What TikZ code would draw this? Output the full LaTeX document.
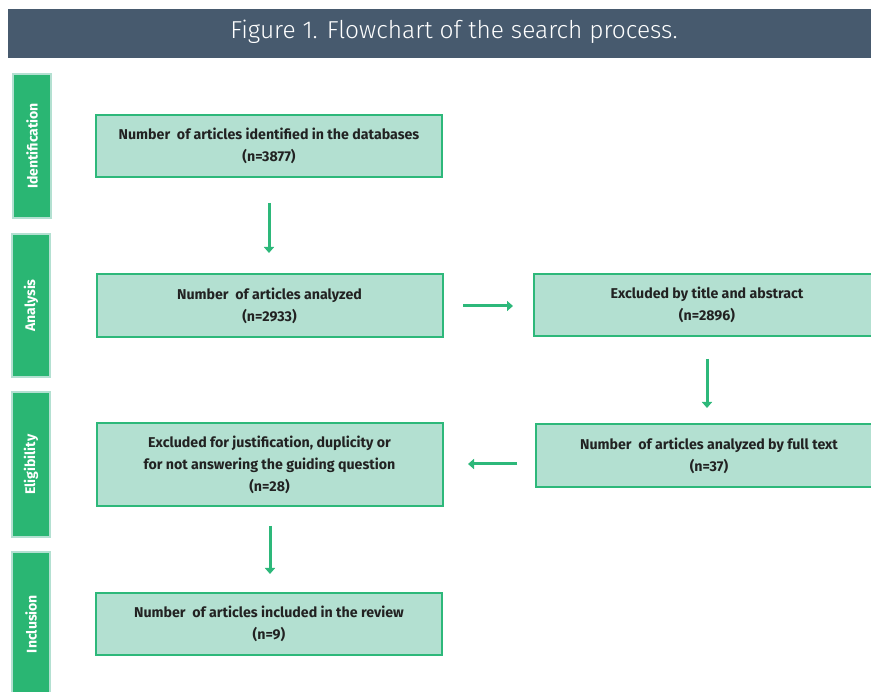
\documentclass[tikz,border=0pt]{standalone}
\usepackage{fontspec}
\setmainfont{Fira Sans}
\newfontfamily\titlefont{Fira Sans Light}
\usetikzlibrary{arrows.meta}
\definecolor{titlebg}{HTML}{475A6E}
\definecolor{boxfill}{HTML}{B3E0D1}
\definecolor{boxline}{HTML}{2DB87A}
\definecolor{tabfill}{HTML}{2AB673}
\definecolor{txt}{HTML}{222222}
\tikzset{
  stagebox/.style={draw=boxline, line width=2pt, fill=boxfill, minimum width=346pt, align=center,
    text=txt, font=\fontsize{14.2}{22}\selectfont\bfseries, inner sep=0pt},
  tabbox/.style={draw=boxfill, line width=2.5pt, fill=tabfill, minimum width=38pt, text=white, inner sep=0pt},
  tablabel/.style={rotate=90, text=white, font=\fontsize{14}{16}\selectfont\bfseries},
  flowarrow/.style={draw=boxline, line width=3pt, -{Triangle[width=10pt,length=6pt]}},
}
\begin{document}
\begin{tikzpicture}[x=1pt,y=-1pt]
\clip (0,0) rectangle (871,692);
\fill[white] (0,0) rectangle (871,692);
% title
\node[fill=titlebg, minimum width=863pt, minimum height=49pt, inner sep=0pt, anchor=north west] (title) at (8,9) {};
\node[text=white, font=\titlefont\fontsize{24.5}{28}\selectfont] (titletext) at (454,32) {Figure 1. Flowchart of the search process.};
% tabs
\node[tabbox, minimum height=144pt] (t1) at (32,146) {};
\node[tablabel] (t1l) at (t1) {Identification};
\node[tabbox, minimum height=143pt] (t2) at (31,305.5) {};
\node[tablabel] (t2l) at (t2) {Analysis};
\node[tabbox, minimum height=145pt] (t3) at (31,464.5) {};
\node[tablabel] (t3l) at (t3) {Eligibility};
\node[tabbox, minimum height=150pt] (t4) at (31,627) {};
\node[tablabel] (t4l) at (31,624) {Inclusion};
% boxes
\node[stagebox, minimum height=62pt] (b1) at (269,146) {Number\ \ of articles identified in the databases\\(n=3877)};
\node[stagebox, minimum height=63pt] (b2) at (269.5,305.5) {Number\ \ of articles analyzed\\(n=2933)};
\node[stagebox, minimum height=62pt] (b3) at (707,305) {Excluded by title and abstract\\(n=2896)};
\node[stagebox, minimum height=63pt] (b4) at (709,455.5) {Number\ \ of articles analyzed by full text\\(n=37)};
\node[stagebox, minimum height=83pt] (b5) at (269.5,464.5) {Excluded for justification, duplicity or\\for not answering the guiding question\\(n=28)};
\node[stagebox, minimum height=62pt] (b6) at (269,624) {Number\ \ of articles included in the review\\(n=9)};
% arrows
\coordinate (a1s) at (269,203); \coordinate (a1e) at (269,253);
\coordinate (a2s) at (463,306); \coordinate (a2e) at (513,306);
\coordinate (a3s) at (707,359); \coordinate (a3e) at (707,408);
\coordinate (a4s) at (517,464); \coordinate (a4e) at (468,464);
\coordinate (a5s) at (270,526); \coordinate (a5e) at (270,574);
\draw[flowarrow] (a1s) -- (a1e);
\draw[flowarrow] (a2s) -- (a2e);
\draw[flowarrow] (a3s) -- (a3e);
\draw[flowarrow] (a4s) -- (a4e);
\draw[flowarrow] (a5s) -- (a5e);
\end{tikzpicture}
\end{document}
